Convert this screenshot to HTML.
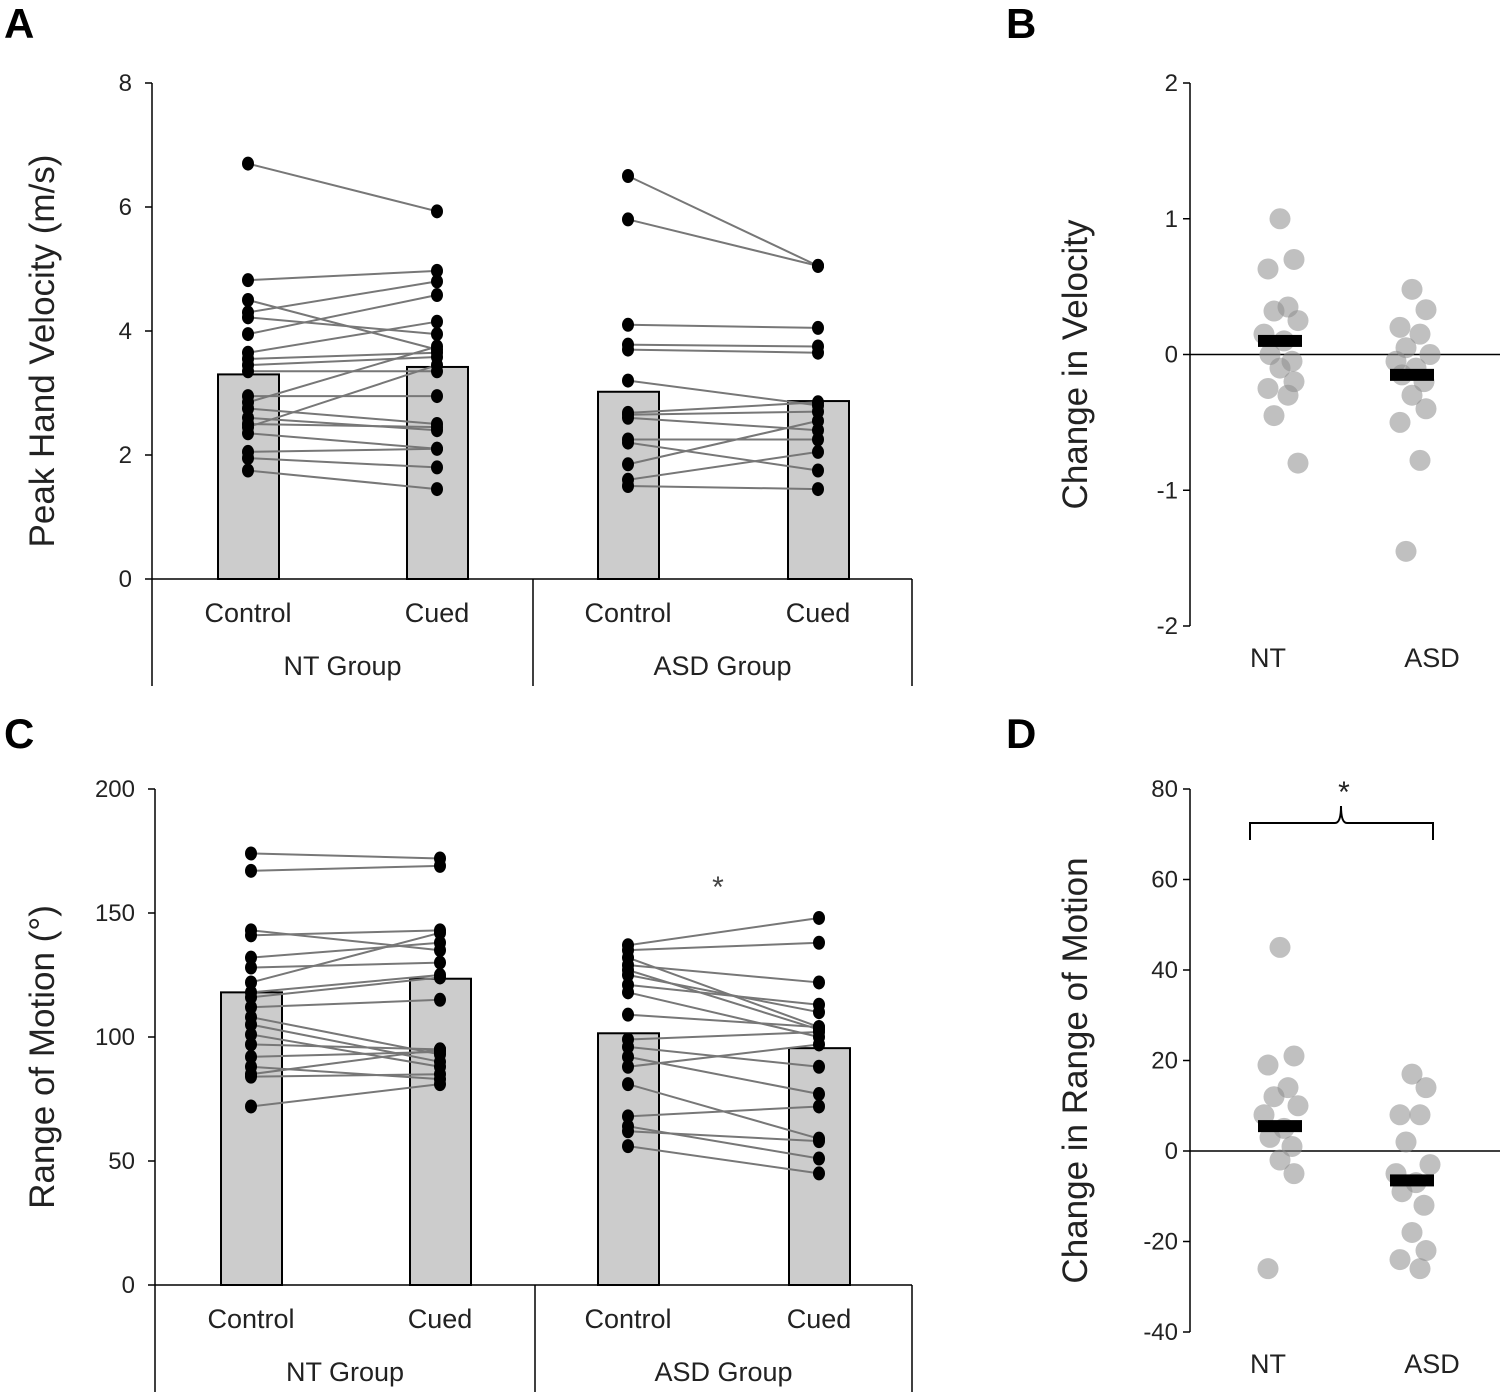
<!DOCTYPE html>
<html><head><meta charset="utf-8"><style>
body{margin:0;background:#fff}
svg{display:block;font-family:"Liberation Sans",Arial,sans-serif}
</style></head><body>
<svg id="c" width="1503" height="1394"></svg>
<script>
// Panel A data
const aNTcontrol=[6.7,4.82,4.5,4.3,4.22,3.95,3.65,3.55,3.45,3.35,2.95,2.85,2.75,2.6,2.5,2.45,2.35,2.05,1.95,1.75];
const aNTcued=[5.93,4.97,3.7,4.8,3.95,4.58,4.15,3.65,3.58,3.35,2.95,3.75,2.5,2.4,2.45,3.45,2.1,2.1,1.8,1.45];
const aASDcontrol=[6.5,5.8,4.1,3.78,3.7,3.2,2.68,2.65,2.6,2.25,2.2,1.85,1.6,1.5];
const aASDcued=[5.05,5.05,4.05,3.75,3.65,2.8,2.85,2.7,2.4,2.25,1.75,2.55,2.05,1.45];
const aBars=[3.3,3.42,3.02,2.87];
const aTicks=[0,2,4,6,8];
// Panel C data
const cNTcontrol=[174,167,143,141,132,128,122,118,116,112,108,105,101,97,92,88,85,84,72];
const cNTcued=[172,169,135,143,138,130,142,125,124,115,93,90,88,95,94,83,95,85,81];
const cASDcontrol=[137,135,132,129,127,125,121,118,109,99,96,92,88,81,68,64,62,56];
const cASDcued=[148,138,104,122,103,110,113,100,104,102,88,77,97,59,72,51,58,45];
const cBars=[118,123.5,101.5,95.5];
const cTicks=[0,50,100,150,200];
// Panel B data
const bNT=[1.0,0.7,0.63,0.35,0.32,0.25,0.15,0.1,0.0,-0.05,-0.1,-0.2,-0.25,-0.3,-0.45,-0.8];
const bASD=[0.48,0.33,0.2,0.15,0.05,0.0,-0.05,-0.1,-0.15,-0.2,-0.3,-0.4,-0.5,-0.78,-1.45];
const bMeans=[0.1,-0.15];
const bTicks=[-2,-1,0,1,2];
// Panel D data
const dNT=[45,21,19,14,12,10,8,5,3,1,-2,-5,-26];
const dASD=[17,14,8,8,2,-3,-5,-7,-9,-12,-18,-22,-24,-26];
const dMeans=[5.5,-6.5];
const dTicks=[-40,-20,0,20,40,60,80];

const S=document.getElementById('c'),NS='http://www.w3.org/2000/svg';
function el(t,a,txt){const e=document.createElementNS(NS,t);for(const k in a)e.setAttribute(k,a[k]);if(txt!==undefined)e.textContent=txt;S.appendChild(e);return e;}
function line(x1,y1,x2,y2,c,w){return el('line',{x1,y1,x2,y2,stroke:c||'#000','stroke-width':w||1.5});}

function barPanel(o){
  const y=v=>o.y0-(v-o.min)/(o.max-o.min)*(o.y0-o.yTop);
  o.bars.forEach((v,i)=>{const b=el('rect',{x:o.bx[i]-30,y:y(v),width:61,height:o.y0-y(v),fill:'#cccccc',stroke:'#000','stroke-width':2});
    
    });
  const ax=line(o.ax,o.yTop,o.ax,o.yBot);
  line(o.ax,o.y0,o.sep[1],o.y0);
  line(o.sep[0],o.y0,o.sep[0],o.yBot);line(o.sep[1],o.y0,o.sep[1],o.yBot);
  o.ticks.forEach(t=>{line(o.ax-7,y(t),o.ax,y(t));
    const tl=el('text',{x:o.ax-20,y:y(t)+8,'text-anchor':'end','font-size':24,fill:'#222'},t);
    });
  [[o.nt0,o.nt1,0],[o.asd0,o.asd1,2]].forEach(([a,b,k])=>{
    a.forEach((v,i)=>{const l=line(o.bx[k],y(v),o.bx[k+1],y(b[i]),'#777',2);
      });
    a.forEach(v=>{const d=el('ellipse',{cx:o.bx[k],cy:y(v),rx:6,ry:7,fill:'#000'});
      });
    b.forEach(v=>{const d=el('ellipse',{cx:o.bx[k+1],cy:y(v),rx:6,ry:7,fill:'#000'});
      });
  });
  ['Control','Cued','Control','Cued'].forEach((t,i)=>{const e=el('text',{x:o.bx[i],y:o.y0+43,'text-anchor':'middle','font-size':27,fill:'#222'},t);
    });
  ['NT Group','ASD Group'].forEach((t,i)=>{const e=el('text',{x:[(o.ax+o.sep[0])/2,(o.sep[0]+o.sep[1])/2][i],y:o.y0+96,'text-anchor':'middle','font-size':27,fill:'#222'},t);
    });
  const ti=el('text',{x:0,y:0,'text-anchor':'middle','font-size':35,fill:'#222',transform:`translate(${o.titleX},${(o.yTop+o.y0)/2+20}) rotate(-90)`},o.title);
  
}
barPanel({key:'a',min:0,max:8,y0:579,yTop:83,yBot:686,ax:152,sep:[533,912],bx:[248,437,628,818],bars:aBars,ticks:aTicks,
  nt0:aNTcontrol,nt1:aNTcued,asd0:aASDcontrol,asd1:aASDcued,title:'Peak Hand Velocity (m/s)',titleX:54});
barPanel({key:'c',min:0,max:200,y0:1285,yTop:789,yBot:1392,ax:155,sep:[535,912],bx:[251,440,628,819],bars:cBars,ticks:cTicks,
  nt0:cNTcontrol,nt1:cNTcued,asd0:cASDcontrol,asd1:cASDcued,title:'Range of Motion (°)',titleX:54});
let st=el('text',{x:718,y:897,'text-anchor':'middle','font-size':30,fill:'#444'},'*');


function dotPanel(o){
  const y=v=>o.yBot-(v-o.min)/(o.max-o.min)*(o.yBot-o.yTop);
  const ax=line(o.ax,o.yTop,o.ax,o.yBot);
  line(o.ax,y(0),1500,y(0));
  o.ticks.forEach(t=>{line(o.ax-7,y(t),o.ax,y(t));
    const tl=el('text',{x:o.ax-12,y:y(t)+8,'text-anchor':'end','font-size':24,fill:'#222'},t);
    });
  const jit=[0,14,-12,8,-6,18,-16,4,-10,12];
  [o.nt,o.asd].forEach((arr,g)=>{arr.forEach((v,i)=>{const c=el('circle',{cx:o.gx[g]+jit[i%10],cy:y(v),r:10.5,fill:'rgba(140,140,140,0.55)'});
    });
    const m=el('rect',{x:o.gx[g]-22,y:y(o.means[g])-6,width:44,height:12,fill:'#000'});
    });
  ['NT','ASD'].forEach((t,i)=>{const e=el('text',{x:[1268,1432][i],y:o.yBot+41,'text-anchor':'middle','font-size':27,fill:'#222'},t);
    });
  const ti=el('text',{x:0,y:0,'text-anchor':'middle','font-size':35,fill:'#222',transform:`translate(${o.titleX},${(o.yTop+o.yBot)/2+10}) rotate(-90)`},o.title);
  
}
dotPanel({min:-2,max:2,yTop:83,yBot:626,ax:1190,ticks:bTicks,nt:bNT,asd:bASD,gx:[1280,1412],means:bMeans,title:'Change in Velocity',titleX:1087});
dotPanel({min:-40,max:80,yTop:789,yBot:1332,ax:1190,ticks:dTicks,nt:dNT,asd:dASD,gx:[1280,1412],means:dMeans,title:'Change in Range of Motion',titleX:1087});
let br=el('path',{d:'M1250,840 L1250,823 L1335,823 Q1341,823 1341,806 Q1341,823 1347,823 L1433,823 L1433,840',fill:'none',stroke:'#000','stroke-width':2});

st=el('text',{x:1344,y:802,'text-anchor':'middle','font-size':30,fill:'#222'},'*');


[['A',4,38],['B',1006,38],['C',4,748],['D',1006,748]].forEach(([t,x,yy])=>{const e=el('text',{x,y:yy,'font-size':42,'font-weight':'bold',fill:'#000'},t);
  });
</script>
</body></html>
